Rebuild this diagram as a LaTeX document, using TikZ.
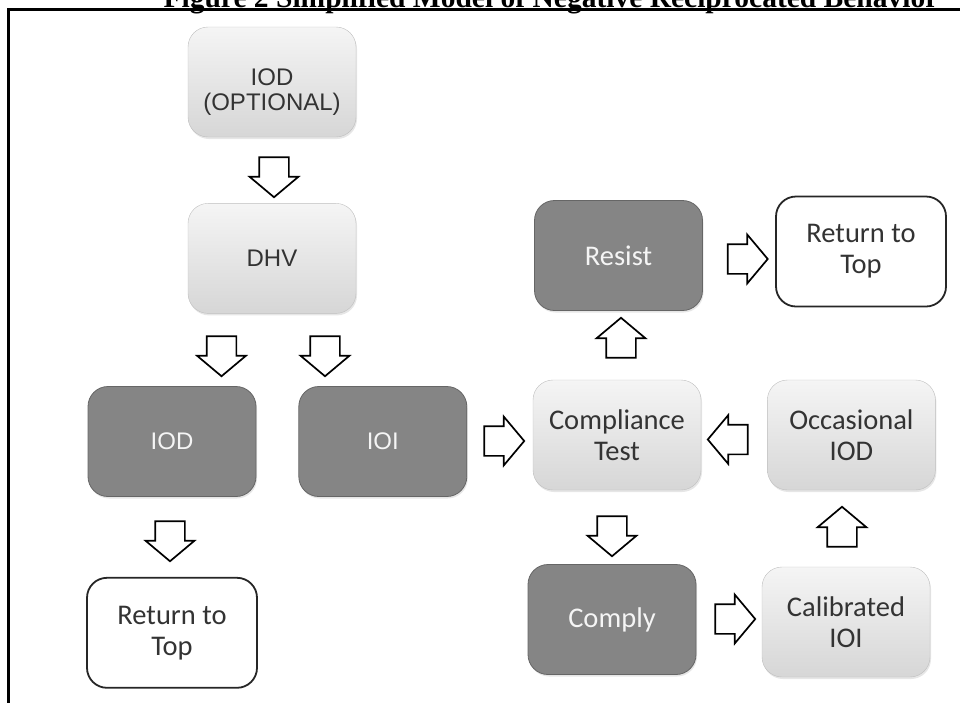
\documentclass[tikz,border=0pt]{standalone}
\usepackage{fontspec}
\setmainfont{Liberation Serif}
\newfontfamily\calibrifont{Carlito}
\newfontfamily\arialfont{Liberation Sans}
\usetikzlibrary{positioning, shapes.arrows, shadows}
\tikzset{
  stepbox/.style={rounded corners=20pt, minimum width=168pt, minimum height=110pt, inner sep=2pt, align=center},
  lightbox/.style={stepbox, draw=black!25, top color=black!4, bottom color=black!16, text=black!80,
    drop shadow={shadow xshift=1pt, shadow yshift=-2pt, opacity=.2}},
  darkbox/.style={stepbox, draw=black!60, line width=0.8pt, fill=black!48, text=black!4,
    drop shadow={shadow xshift=1pt, shadow yshift=-2pt, opacity=.2}},
  returnbox/.style={stepbox, minimum width=170pt, draw=black!85, line width=1.8pt, fill=white, text=black!80},
  blockarr/.style={single arrow, draw=black, line width=1.7pt, fill=white, inner xsep=0pt, inner ysep=14pt,
    minimum height=40pt, minimum width=47pt, single arrow head extend=9.5pt, single arrow tip angle=100},
  ppt/.style={font=\calibrifont\fontsize{28.5}{31}\selectfont},
  arial/.style={font=\arialfont\fontsize{24}{24.5}\selectfont},
}
\newcommand{\flownode}[3]{\node[#3] (#1) {#2};}
\newcommand{\blockarrow}[3]{\node[blockarr, rotate=#3] (#1) at (#2) {};}

\begin{document}
\begin{tikzpicture}[x=1pt, y=-1pt] % pixel units, y downwards
\useasboundingbox (0,0) rectangle (960,702);

\node[font=\bfseries\fontsize{29.5}{30}\selectfont, anchor=base] (title) at (551,7)
  {Figure 2 Simplified Model of Negative Reciprocated Behavior};
\draw[line width=3pt] (8,712) |- (970,9.5);

% left column
\flownode{iodopt}{\raisebox{-11pt}[\height][\depth]{\begin{tabular}{@{}c@{}}IOD\\(OPTIONAL)\end{tabular}}}{lightbox, arial, at={(272,82)}};
\flownode{dhv}{DHV}{lightbox, arial, below=66pt of iodopt};
\flownode{iod}{IOD}{darkbox, arial, at={(172,441.5)}};
\flownode{ioi}{IOI}{darkbox, arial, right=42pt of iod};
\flownode{topleft}{Return to\\Top}{returnbox, ppt, below=80pt of iod};

% right part
\flownode{comp}{Compliance\\Test}{lightbox, ppt, at={(617,435)}};
\flownode{occ}{Occasional\\IOD}{lightbox, ppt, right=66pt of comp};
\flownode{resist}{Resist}{darkbox, ppt, at={(618.5,255.5)}};
\flownode{topright}{Return to\\Top}{returnbox, ppt, at={(861,251.5)}};
\flownode{comply}{Comply}{darkbox, ppt, at={(612,619.5)}};
\flownode{calib}{Calibrated\\IOI}{lightbox, ppt, at={(846,622)}};

\blockarrow{a1}{274,171}{-90};
\blockarrow{a2}{221.5,350}{-90};
\blockarrow{a3}{325,350}{-90};
\blockarrow{a4}{170,535}{-90};
\blockarrow{a5}{498,441}{0};
\blockarrow{a6}{621,344}{90};
\blockarrow{a7}{741.5,259}{0};
\blockarrow{a8}{734,439.5}{180};
\blockarrow{a9}{612,530}{-90};
\blockarrow{a10}{729,619}{0};
\blockarrow{a11}{842,533}{90};
\end{tikzpicture}
\end{document}
